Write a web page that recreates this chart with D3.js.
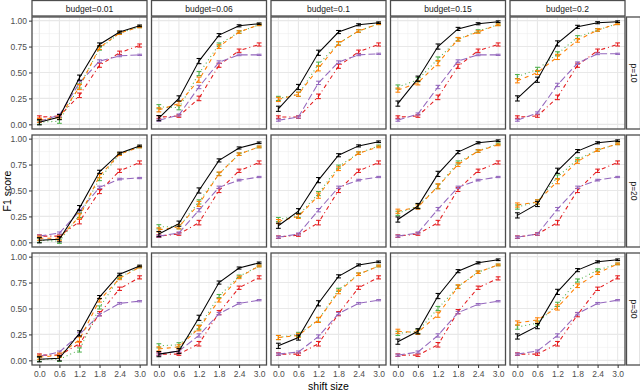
<!DOCTYPE html>
<html>
<head>
<meta charset="utf-8">
<script src="https://cdn.jsdelivr.net/npm/d3@7"></script>
<style>
  body { margin: 0; background: #fff; }
  svg { display: block; font-family: "Liberation Sans", Arial, sans-serif; }
</style>
</head>
<body>
<svg id="chart" width="640" height="391"></svg>
<script>
const budgets = ["0.01", "0.06", "0.1", "0.15", "0.2"]
const ps = ["10", "20", "30"]
const shifts = [0, 0.6, 1.2, 1.8, 2.4, 3.0]
const yTicks = [0, 0.25, 0.5, 0.75, 1]
const yTickLabels = ["0.00", "0.25", "0.50", "0.75", "1.00"]

// F1 per row (p) and column (budget), one value per shift size
const blackF1 = [
  [[0.02,0.07,0.45,0.77,0.89,0.95],[0.06,0.25,0.61,0.86,0.95,0.97],[0.15,0.36,0.69,0.89,0.96,0.98],[0.20,0.44,0.75,0.92,0.97,0.99],[0.25,0.43,0.78,0.94,0.98,0.99]],
  [[0.02,0.03,0.33,0.68,0.86,0.93],[0.08,0.18,0.50,0.79,0.91,0.96],[0.16,0.30,0.60,0.84,0.93,0.97],[0.22,0.35,0.66,0.87,0.96,0.98],[0.26,0.37,0.69,0.88,0.96,0.98]],
  [[0.01,0.02,0.26,0.61,0.83,0.91],[0.06,0.09,0.41,0.75,0.89,0.94],[0.14,0.22,0.55,0.81,0.92,0.95],[0.18,0.28,0.62,0.86,0.94,0.97],[0.23,0.33,0.66,0.87,0.95,0.97]]
]
const greenF1 = [
  [[0.02,0.03,0.37,0.73,0.88,0.94],[0.17,0.16,0.49,0.77,0.89,0.96],[0.25,0.29,0.58,0.78,0.90,0.97],[0.36,0.43,0.63,0.82,0.90,0.96],[0.46,0.53,0.68,0.84,0.91,0.97]],
  [[0.02,0.01,0.26,0.61,0.85,0.92],[0.15,0.15,0.39,0.66,0.85,0.92],[0.22,0.26,0.47,0.73,0.86,0.93],[0.28,0.35,0.54,0.77,0.88,0.95],[0.34,0.39,0.63,0.80,0.89,0.95]],
  [[0.01,0.01,0.10,0.51,0.80,0.90],[0.14,0.15,0.32,0.62,0.81,0.91],[0.22,0.25,0.39,0.68,0.83,0.91],[0.26,0.28,0.50,0.71,0.85,0.92],[0.32,0.36,0.54,0.77,0.87,0.93]]
]
const orangeF1 = [
  [[0.04,0.07,0.36,0.74,0.88,0.94],[0.14,0.20,0.43,0.75,0.89,0.96],[0.24,0.29,0.54,0.78,0.90,0.97],[0.33,0.40,0.59,0.82,0.89,0.96],[0.42,0.50,0.65,0.81,0.91,0.97]],
  [[0.04,0.04,0.25,0.64,0.85,0.92],[0.12,0.15,0.37,0.66,0.85,0.92],[0.20,0.25,0.45,0.71,0.86,0.92],[0.30,0.34,0.54,0.75,0.88,0.94],[0.36,0.39,0.59,0.78,0.89,0.95]],
  [[0.03,0.05,0.20,0.58,0.79,0.90],[0.11,0.13,0.31,0.58,0.80,0.91],[0.22,0.24,0.39,0.66,0.83,0.91],[0.28,0.27,0.44,0.71,0.85,0.92],[0.36,0.39,0.51,0.72,0.84,0.93]]
]
const redF1 = [
  [[0.07,0.08,0.28,0.57,0.69,0.76],[0.07,0.08,0.25,0.57,0.71,0.77],[0.07,0.07,0.27,0.56,0.70,0.77],[0.07,0.08,0.26,0.56,0.71,0.77],[0.07,0.08,0.26,0.57,0.71,0.77]],
  [[0.06,0.06,0.20,0.49,0.69,0.77],[0.06,0.08,0.19,0.50,0.69,0.77],[0.05,0.07,0.19,0.50,0.69,0.77],[0.06,0.08,0.19,0.51,0.69,0.77],[0.05,0.08,0.19,0.50,0.69,0.77]],
  [[0.05,0.05,0.16,0.45,0.69,0.80],[0.06,0.06,0.16,0.46,0.70,0.80],[0.06,0.06,0.16,0.45,0.70,0.80],[0.05,0.05,0.15,0.47,0.70,0.79],[0.06,0.06,0.16,0.44,0.69,0.80]]
]
const purpleF1 = [
  [[0.03,0.09,0.40,0.61,0.66,0.67],[0.04,0.09,0.36,0.60,0.67,0.67],[0.04,0.07,0.40,0.60,0.67,0.68],[0.04,0.10,0.36,0.61,0.67,0.67],[0.04,0.11,0.38,0.59,0.68,0.68]],
  [[0.06,0.09,0.30,0.53,0.61,0.62],[0.06,0.09,0.31,0.53,0.60,0.63],[0.05,0.08,0.31,0.53,0.60,0.63],[0.06,0.09,0.32,0.53,0.60,0.63],[0.05,0.08,0.32,0.53,0.60,0.63]],
  [[0.04,0.08,0.25,0.44,0.55,0.57],[0.06,0.09,0.24,0.45,0.55,0.58],[0.06,0.08,0.23,0.45,0.55,0.58],[0.05,0.08,0.24,0.46,0.54,0.57],[0.06,0.09,0.24,0.45,0.55,0.58]]
]

// error bar half widths per shift size
const blackErr  = [0.025,0.025,0.025,0.015,0.01,0.008]
const greenErr  = [0.02,0.02,0.02,0.015,0.012,0.008]
const orangeErr = [0.02,0.02,0.025,0.018,0.012,0.008]
const redErr    = [0.012,0.012,0.022,0.02,0.016,0.015]
const purpleErr = [0.01,0.01,0.016,0.012,0.008,0.006]

const series = [
  { vals: redF1,    err: redErr,    color: "#e41a1c", dash: "1,3,4,3" },
  { vals: purpleF1, err: purpleErr, color: "#9467bd", dash: "7,3" },
  { vals: greenF1,  err: greenErr,  color: "#4daf4a", dash: "1,3" },
  { vals: orangeF1, err: orangeErr, color: "#ff7f00", dash: "4,4" },
  { vals: blackF1,  err: blackErr,  color: "#000000", dash: null }
]

const svg = d3.select("#chart")
const colLeft = [32, 151.5, 271, 390.5, 510]
const rowTop = [17, 135, 253]
const pw = 115, ph = 112

const x = d3.scaleLinear().domain([-0.22, 3.22]).range([0, pw])
const y = d3.scaleLinear().domain([-0.045, 1.035]).range([ph, 0])
const xMinor = [0.3, 0.9, 1.5, 2.1, 2.7]
const yMinor = [0.125, 0.375, 0.625, 0.875]

const line = d3.line().x(d => x(d[0])).y(d => y(d[1]))

ps.forEach((p, r) => {
  budgets.forEach((b, c) => {
    const g = svg.append("g").attr("transform", `translate(${colLeft[c]},${rowTop[r]})`)

    g.append("rect").attr("width", pw).attr("height", ph).attr("fill", "#fff")

    g.selectAll("line.minx").data(xMinor).enter().append("line")
      .attr("x1", d => x(d)).attr("x2", d => x(d)).attr("y1", 0).attr("y2", ph)
      .attr("stroke", "#f0f0f0").attr("stroke-width", 0.6)
    g.selectAll("line.miny").data(yMinor).enter().append("line")
      .attr("y1", d => y(d)).attr("y2", d => y(d)).attr("x1", 0).attr("x2", pw)
      .attr("stroke", "#f0f0f0").attr("stroke-width", 0.6)
    g.selectAll("line.majx").data(shifts).enter().append("line")
      .attr("x1", d => x(d)).attr("x2", d => x(d)).attr("y1", 0).attr("y2", ph)
      .attr("stroke", "#e8e8e8").attr("stroke-width", 1.1)
    g.selectAll("line.majy").data(yTicks).enter().append("line")
      .attr("y1", d => y(d)).attr("y2", d => y(d)).attr("x1", 0).attr("x2", pw)
      .attr("stroke", "#e8e8e8").attr("stroke-width", 1.1)

    series.forEach(s => {
      const pts = shifts.map((sx, i) => [sx, s.vals[r][c][i], s.err[i]])
      g.append("path").datum(pts)
        .attr("d", line)
        .attr("fill", "none")
        .attr("stroke", s.color)
        .attr("stroke-width", 1.05)
        .attr("stroke-dasharray", s.dash)
      const eb = g.append("g").attr("stroke", s.color).attr("stroke-width", 1.05)
      pts.forEach(d => {
        const cx = x(d[0]), hw = 2.4
        eb.append("line").attr("x1", cx).attr("x2", cx).attr("y1", y(d[1] - d[2])).attr("y2", y(d[1] + d[2]))
        eb.append("line").attr("x1", cx - hw).attr("x2", cx + hw).attr("y1", y(d[1] - d[2])).attr("y2", y(d[1] - d[2]))
        eb.append("line").attr("x1", cx - hw).attr("x2", cx + hw).attr("y1", y(d[1] + d[2])).attr("y2", y(d[1] + d[2]))
      })
    })

    g.append("rect").attr("width", pw).attr("height", ph)
      .attr("fill", "none").attr("stroke", "#4d4d4d").attr("stroke-width", 1.3)

    // y axis on first column
    if (c === 0) {
      const ya = g.append("g").call(d3.axisLeft(y).tickValues(yTicks).tickFormat((d, i) => yTickLabels[i]).tickSize(3).tickPadding(2))
      ya.select(".domain").remove()
      ya.selectAll("line").attr("stroke", "#333")
      ya.selectAll("text").attr("fill", "#4d4d4d").style("font-size", "8.5px").style("font-family", "Liberation Sans, Arial, sans-serif")
    }
    // x axis on last row
    if (r === ps.length - 1) {
      const xa = g.append("g").attr("transform", `translate(0,${ph})`)
        .call(d3.axisBottom(x).tickValues(shifts).tickFormat(d3.format(".1f")).tickSize(3).tickPadding(2.5))
      xa.select(".domain").remove()
      xa.selectAll("line").attr("stroke", "#333")
      xa.selectAll("text").attr("fill", "#4d4d4d").style("font-size", "8.5px").style("font-family", "Liberation Sans, Arial, sans-serif")
    }
    // top strips
    if (r === 0) {
      svg.append("rect").attr("x", colLeft[c]).attr("y", 0.5).attr("width", pw).attr("height", 15.5)
        .attr("fill", "#fff").attr("stroke", "#4d4d4d").attr("stroke-width", 1.3)
      svg.append("text").attr("x", colLeft[c] + pw / 2).attr("y", 11.5)
        .attr("text-anchor", "middle").attr("fill", "#1a1a1a").style("font-size", "8.5px")
        .text("budget=" + b)
    }
    // right strips
    if (c === budgets.length - 1) {
      const sx = colLeft[c] + pw + 1.5
      svg.append("rect").attr("x", sx).attr("y", rowTop[r]).attr("width", 14).attr("height", ph)
        .attr("fill", "#fff").attr("stroke", "#4d4d4d").attr("stroke-width", 1.3)
      svg.append("text").attr("transform", `translate(${sx + 4.5},${rowTop[r] + ph / 2}) rotate(90)`)
        .attr("text-anchor", "middle").attr("fill", "#1a1a1a").style("font-size", "8.5px")
        .text("p=" + p)
    }
  })
})

svg.append("text").attr("transform", `translate(11,${(rowTop[0] + rowTop[2] + ph) / 2}) rotate(-90)`)
  .attr("text-anchor", "middle").attr("fill", "#000").style("font-size", "10.5px").text("F1 score")
svg.append("text").attr("x", (colLeft[0] + colLeft[4] + pw) / 2).attr("y", 390)
  .attr("text-anchor", "middle").attr("fill", "#000").style("font-size", "10.5px").text("shift size")
</script>
</body>
</html>
